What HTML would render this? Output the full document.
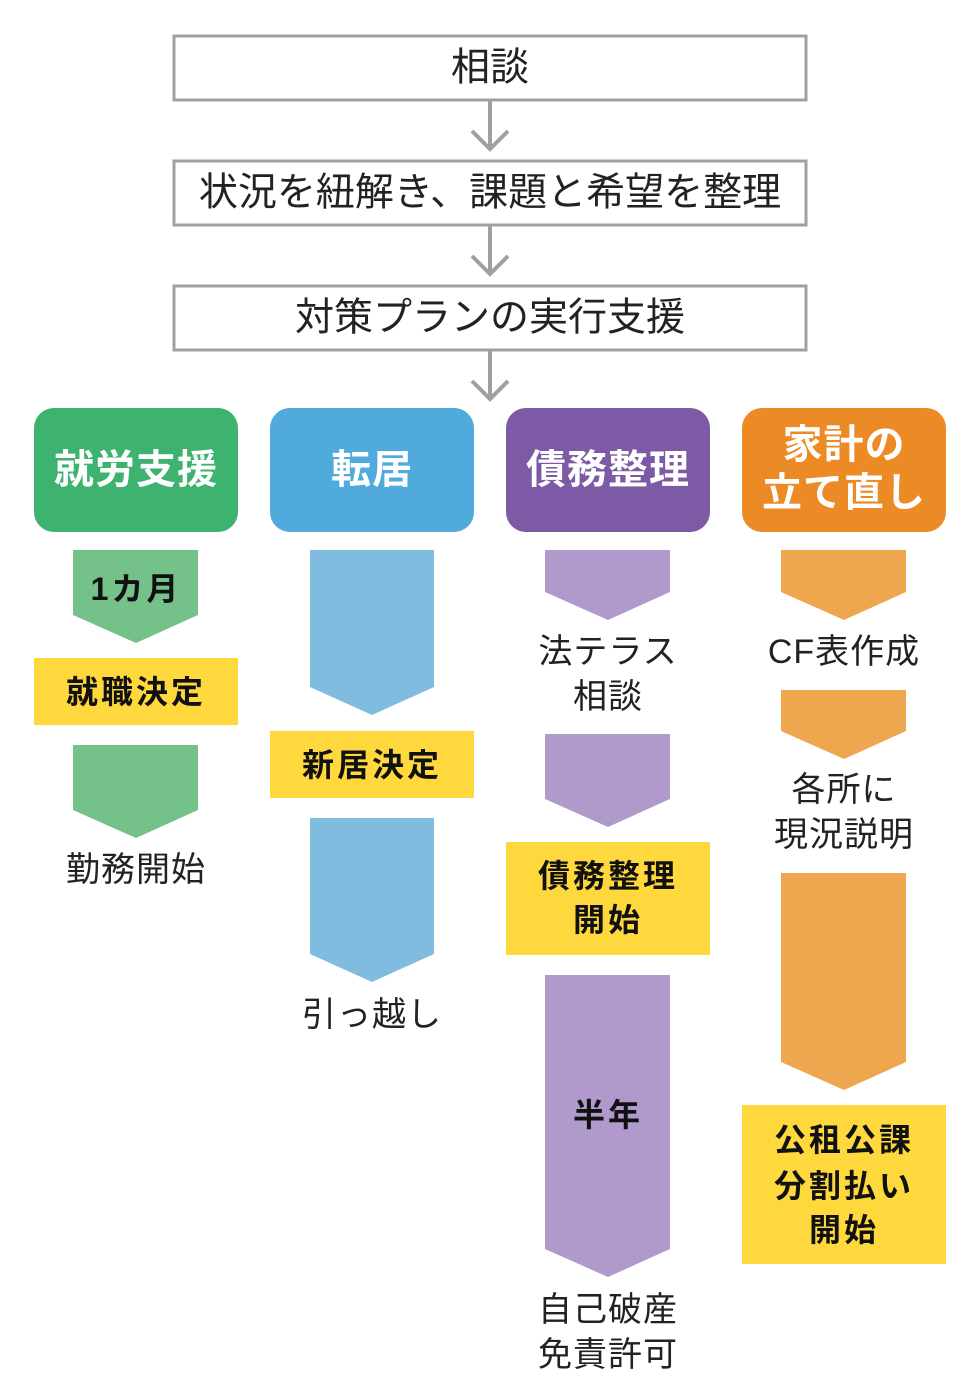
<!DOCTYPE html>
<html><head><meta charset="utf-8"><style>
html,body{margin:0;padding:0;background:#fff}
svg{display:block}
text{font-family:"Liberation Sans","Noto Sans CJK JP",sans-serif;text-anchor:middle;dominant-baseline:central}
.g{font-size:39px;fill:#222}
.l{font-size:34px;fill:#222;letter-spacing:1px}
.b{font-size:32px;font-weight:bold;fill:#111;letter-spacing:3px}
.h{font-size:40px;font-weight:bold;fill:#fff;letter-spacing:1px}
</style></head><body>
<svg width="980" height="1400" viewBox="0 0 980 1400" xmlns="http://www.w3.org/2000/svg">
<g fill="#fff" stroke="#a0a0a0" stroke-width="3">
<rect x="174" y="36" width="632" height="64"/>
<rect x="174" y="161" width="632" height="64"/>
<rect x="174" y="286" width="632" height="64"/>
</g>
<text class="g" x="490" y="68">相談</text>
<text class="g" x="490" y="193">状況を紐解き、課題と希望を整理</text>
<text class="g" x="490" y="318">対策プランの実行支援</text>
<g stroke="#a0a0a0" stroke-width="4" fill="none">
<path d="M490 101V149M472 131L490 149L508 131"/>
<path d="M490 226V274M472 256L490 274L508 256"/>
<path d="M490 351V399M472 381L490 399L508 381"/>
</g>
<rect x="34" y="408" width="204" height="124" rx="20" fill="#3db36f"/>
<rect x="270" y="408" width="204" height="124" rx="20" fill="#50aadb"/>
<rect x="506" y="408" width="204" height="124" rx="20" fill="#7c5aa6"/>
<rect x="742" y="408" width="204" height="124" rx="20" fill="#ec8a25"/>
<text class="h" x="136" y="470">就労支援</text>
<text class="h" x="372" y="470">転居</text>
<text class="h" x="608" y="470">債務整理</text>
<text class="h" x="844" y="445">家計の</text>
<text class="h" x="844" y="493">立て直し</text>
<!-- col1 -->
<polygon points="73,550 198,550 198,615 136,643 73,615" fill="#74c28a"/>
<text class="b" x="136" y="589">1カ月</text>
<rect x="34" y="658" width="204" height="67" fill="#fed83c"/>
<text class="b" x="136" y="692">就職決定</text>
<polygon points="73,745 198,745 198,810 136,838 73,810" fill="#74c28a"/>
<text class="l" x="136" y="870">勤務開始</text>
<!-- col2 -->
<polygon points="310,550 434,550 434,687 372,715 310,687" fill="#80bbe0"/>
<rect x="270" y="731" width="204" height="67" fill="#fed83c"/>
<text class="b" x="372" y="765">新居決定</text>
<polygon points="310,818 434,818 434,954 372,982 310,954" fill="#80bbe0"/>
<text class="l" x="372" y="1015">引っ越し</text>
<!-- col3 -->
<polygon points="545,550 670,550 670,592 608,620 545,592" fill="#b09acb"/>
<text class="l" x="608" y="652">法テラス</text>
<text class="l" x="608" y="697">相談</text>
<polygon points="545,734 670,734 670,799 608,827 545,799" fill="#b09acb"/>
<rect x="506" y="842" width="204" height="113" fill="#fed83c"/>
<text class="b" x="608" y="876">債務整理</text>
<text class="b" x="608" y="920">開始</text>
<polygon points="545,975 670,975 670,1249 608,1277 545,1249" fill="#b09acb"/>
<text class="b" x="608" y="1115">半年</text>
<text class="l" x="608" y="1310">自己破産</text>
<text class="l" x="608" y="1355">免責許可</text>
<!-- col4 -->
<polygon points="781,550 906,550 906,592 844,620 781,592" fill="#eea64f"/>
<text class="l" x="844" y="652">CF表作成</text>
<polygon points="781,690 906,690 906,731 844,759 781,731" fill="#eea64f"/>
<text class="l" x="844" y="790">各所に</text>
<text class="l" x="844" y="835">現況説明</text>
<polygon points="781,873 906,873 906,1062 844,1090 781,1062" fill="#eea64f"/>
<rect x="742" y="1105" width="204" height="159" fill="#fed83c"/>
<text class="b" x="844" y="1140">公租公課</text>
<text class="b" x="844" y="1186">分割払い</text>
<text class="b" x="844" y="1230">開始</text>
</svg>
</body></html>
